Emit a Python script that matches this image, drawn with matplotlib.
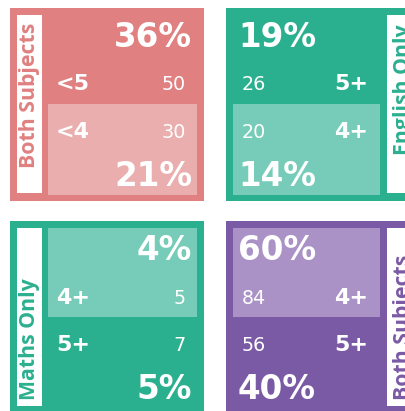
import matplotlib
matplotlib.use("Agg")
import matplotlib.pyplot as plt
from matplotlib.patches import Rectangle

# ---- data ----
panel_titles = ["Both Subjects", "English Only", "Maths Only", "Both Subjects"]
pct_first = [36, 19, 4, 60]
pct_second = [21, 14, 5, 40]
row1_labels = ["<5", "5+", "4+", "4+"]
row1_counts = [50, 26, 5, 84]
row2_labels = ["<4", "4+", "5+", "5+"]
row2_counts = [30, 20, 7, 56]

# ---- style / layout ----
dark_colors = ["#E08080", "#2BB08F", "#2BB08F", "#7B5AA5"]
light_colors = ["#EAAEAE", "#76CCB8", "#76CCB8", "#AA92C6"]
strip_side = ["left", "right", "left", "right"]
light_rows = ["bottom", "bottom", "top", "top"]
origins = [(10, 8), (226, 8), (10, 221), (226, 221)]
title_bottom = [160, 147, 179, 179]   # offset of title start from panel top
title_dx = [13, 16, 13, 16]

PW, PH = 194, 193
baselines = [39, 82.5, 130, 178]
PCT_FS, ROW_FS, CNT_FS, TITLE_FS = 23.5, 16, 13.8, 15.3

fig = plt.figure(figsize=(4.05, 4.11), dpi=100)
ax = fig.add_axes([0, 0, 1, 1])
ax.set_xlim(0, 405)
ax.set_ylim(411, 0)
ax.axis("off")

for i in range(4):
    x0, y0 = origins[i]
    dark, light = dark_colors[i], light_colors[i]
    ax.add_patch(Rectangle((x0, y0), PW, PH, color=dark, lw=0))
    if strip_side[i] == "left":
        sx = x0 + 7
        cx0, cx1 = x0 + 38, x0 + 187
    else:
        sx = x0 + 161
        cx0, cx1 = x0 + 7, x0 + 154
    ax.add_patch(Rectangle((sx, y0 + 7), 25, PH - 15, color="white", lw=0))
    if light_rows[i] == "bottom":
        ly0, ly1 = y0 + 96, y0 + 187
    else:
        ly0, ly1 = y0 + 7, y0 + 96
    ax.add_patch(Rectangle((cx0, ly0), cx1 - cx0, ly1 - ly0, color=light, lw=0))

    ax.text(sx + title_dx[i], y0 + title_bottom[i], panel_titles[i], rotation=90,
            rotation_mode="anchor", ha="left", va="center", color=dark,
            fontsize=TITLE_FS, fontweight="bold", family="Open Sans")

    pcts = [f"{pct_first[i]}%", f"{pct_second[i]}%"]
    rows = [(row1_labels[i], row1_counts[i]), (row2_labels[i], row2_counts[i])]
    if strip_side[i] == "left":
        px, pha = x0 + 182, "right"
        lx, lha = x0 + 46, "left"
        nx, nha = x0 + 176, "right"
    else:
        px, pha = x0 + 12, "left"
        lx, lha = x0 + 142, "right"
        nx, nha = x0 + 16, "left"
    ax.text(px, y0 + baselines[0], pcts[0], ha=pha, va="baseline", color="white",
            fontsize=PCT_FS, fontweight="bold")
    ax.text(px, y0 + baselines[3], pcts[1], ha=pha, va="baseline", color="white",
            fontsize=PCT_FS, fontweight="bold")
    for k, (lab, cnt) in enumerate(rows):
        by = y0 + baselines[k + 1]
        ax.text(lx, by, lab, ha=lha, va="baseline", color="white",
                fontsize=ROW_FS, fontweight="bold")
        ax.text(nx, by, str(cnt), ha=nha, va="baseline", color="white",
                fontsize=CNT_FS)

fig.savefig("out.png", dpi=100)
